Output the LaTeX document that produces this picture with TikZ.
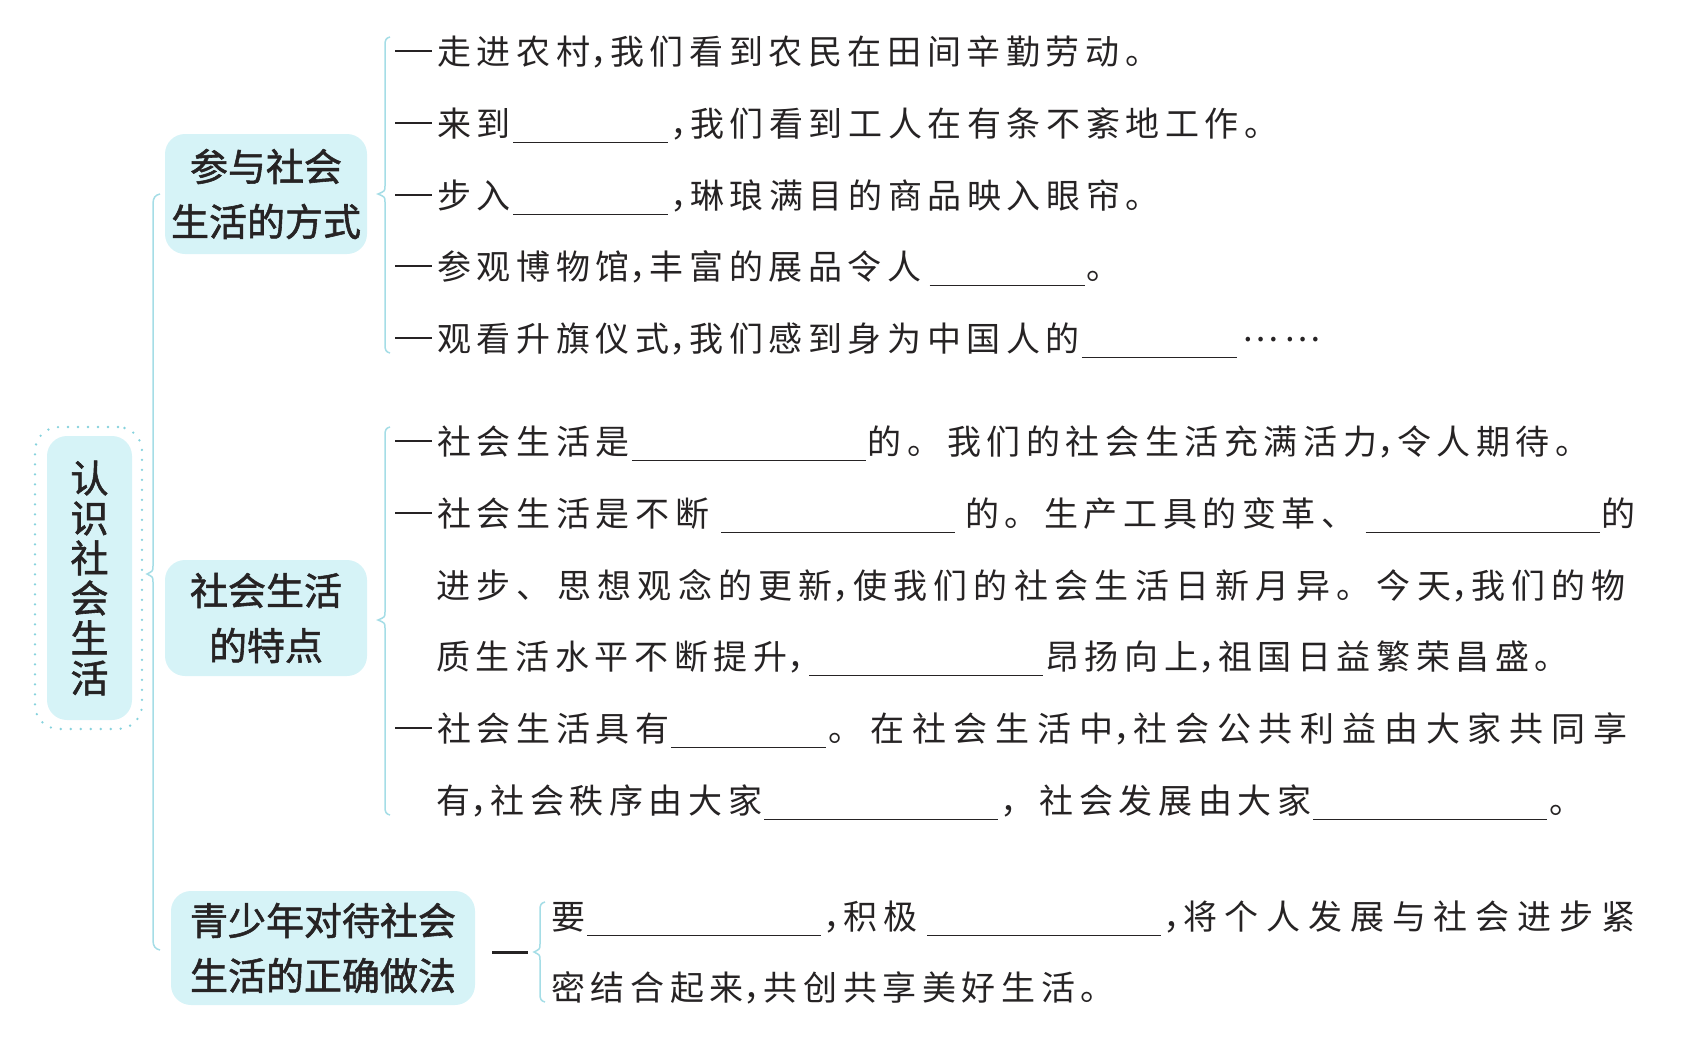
\documentclass[tikz,border=0pt]{standalone}
\usepackage{fontspec}
\setmainfont{Noto Sans CJK SC}
\newfontfamily\bodyfont[LetterSpace=16.5]{Noto Sans CJK SC}
\newfontfamily\bodymid[LetterSpace=18.5]{Noto Sans CJK SC}
\newfontfamily\bodywide[LetterSpace=23]{Noto Sans CJK SC}
\newfontfamily\headfont[FakeBold=1.5]{Noto Sans CJK SC}
\definecolor{boxfill}{HTML}{D6F3F7}
\definecolor{linecyan}{HTML}{A5DDE6}
\definecolor{dotcyan}{HTML}{86D2DD}
\definecolor{inkgray}{HTML}{262324}
% blank to be filled in, width in pt
\newcommand\blank[1]{\kern1pt\rule[-3.5pt]{#1pt}{0.7pt}\kern1pt}
% leading dash of an item
\newcommand\lead{\rule[5.8pt]{18.5pt}{1.4pt}\kern2.5pt}
% narrow comma
\newcommand\hc{\makebox[10pt][l]{，}}
\tikzset{
  txt/.style={anchor=west, inner sep=0pt, text=inkgray, text height=15pt, text depth=2pt,
    font=\bodyfont\fontsize{17pt}{20pt}\selectfont},
  topicbox/.style={fill=boxfill, rounded corners=10pt, inner sep=0pt, align=center, text=inkgray,
    font=\headfont\fontsize{19pt}{27.5pt}\selectfont},
  branch/.style={draw=linecyan, line width=0.75pt}
}
\begin{document}
\begin{tikzpicture}[x=0.5pt, y=-0.5pt]
  \useasboundingbox (0,0) rectangle (1704,1044);

  % root topic
  \node[draw=dotcyan, line width=1.3pt, line cap=round, dash pattern=on 0pt off 5pt,
        rounded corners=12pt, minimum width=53.5pt, minimum height=151pt] (rootframe) at (88.5,578) {};
  \node[topicbox, minimum width=42.5pt, minimum height=142pt,
        font=\headfont\fontsize{19pt}{20pt}\selectfont] (root) at (89.5,578) {认\\识\\社\\会\\生\\活};

  % main brace
  \draw[branch] (160,194) .. controls (155,195) and (153,198) .. (153,204) -- (153,566)
    .. controls (153,571) .. (147,574) .. controls (153,577) .. (153,582) -- (153,940)
    .. controls (153,946) and (155,949) .. (160,950);

  % second level topics
  \node[topicbox, minimum width=101pt, minimum height=60pt] (way) at (266,194) {参与社会\\生活的方式};
  \node[topicbox, minimum width=101pt, minimum height=58pt] (trait) at (266,618) {社会生活\\的特点};
  \node[topicbox, minimum width=152pt, minimum height=57pt] (youth) at (323,948) {青少年对待社会\\生活的正确做法};

  % braces of the three groups
  \draw[branch] (390,37) .. controls (386,38) and (385,40) .. (385,45) -- (385,186)
    .. controls (385,191) .. (378,194) .. controls (385,197) .. (385,202) -- (385,345)
    .. controls (385,350) and (386,352) .. (390,353);
  \draw[branch] (390,427) .. controls (386,428) and (385,430) .. (385,435) -- (385,612)
    .. controls (385,617) .. (378,620) .. controls (385,623) .. (385,628) -- (385,807)
    .. controls (385,812) and (386,814) .. (390,815);
  \draw[branch] (545,902) .. controls (541,903) and (540,905) .. (540,910) -- (540,944)
    .. controls (540,949) .. (534,952) .. controls (540,955) .. (540,960) -- (540,994)
    .. controls (540,999) and (541,1001) .. (545,1002);
  \coordinate (dashA) at (492,952);
  \coordinate (dashB) at (528,952);
  \draw[inkgray, line width=1.5pt] (dashA) -- (dashB);

  % ways to take part
  \node[txt] (a1) at (395,51) {\lead 走进农村\hc 我们看到农民在田间辛勤劳动。};
  \node[txt] (a2) at (395,123) {\lead 来到\blank{77.5}\hc 我们看到工人在有条不紊地工作。};
  \node[txt] (a3) at (395,195) {\lead 步入\blank{77.5}\hc 琳琅满目的商品映入眼帘。};
  \node[txt] (a4) at (395,266) {\lead 参观博物馆\hc 丰富的展品令人\kern3pt\blank{77.5}。};
  \node[txt] (a5) at (395,338) {\lead 观看升旗仪式\hc 我们感到身为中国人的\blank{77.5}\kern2pt\raisebox{5pt}{……}};

  % traits
  \node[txt] (b1) at (395,441) {\lead 社会生活是\blank{117}的。我们的社会生活充满活力\hc 令人期待。};
  \node[txt] (b2) at (395,513) {\lead 社会生活是不断\kern5pt\blank{117}\kern4pt 的。生产工具的变革、\kern4pt\blank{117}的};
  \node[txt, font=\bodymid\fontsize{17pt}{20pt}\selectfont] (b3) at (436,585)
    {进步、思想观念的更新\hc 使我们的社会生活日新月异。今天\hc 我们的物};
  \node[txt] (b4) at (436,656) {质生活水平不断提升\hc\blank{117}昂扬向上\hc 祖国日益繁荣昌盛。};
  \node[txt] (b5) at (395,728) {\lead 社会生活具有\blank{77.5}{\bodywide\fontsize{17pt}{20pt}\selectfont 。在社会生活中\hc 社会公共利益由大家共同享}};
  \node[txt] (b6) at (436,800) {有\hc 社会秩序由大家\blank{117}，社会发展由大家\blank{117}。};

  % right way for the young
  \node[txt] (c1) at (551,916) {要\blank{117}\hc 积极\kern4pt\blank{117}\hc{\bodywide\fontsize{17pt}{20pt}\selectfont 将个人发展与社会进步紧}};
  \node[txt] (c2) at (551,987) {密结合起来\hc 共创共享美好生活。};
\end{tikzpicture}
\end{document}
